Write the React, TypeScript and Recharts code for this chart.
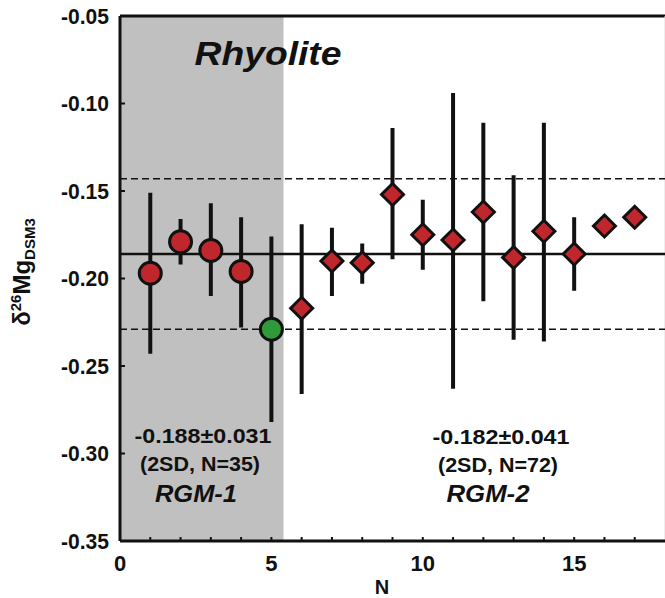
import React from "react";
import {
  ScatterChart,
  Scatter,
  XAxis,
  YAxis,
  ErrorBar,
  ReferenceArea,
  ReferenceLine,
} from "recharts";

// RGM-1 (circles)
const rgm1N = [1, 2, 3, 4];
const rgm1Val = [-0.197, -0.179, -0.184, -0.196];
const rgm1Hi = [-0.151, -0.166, -0.157, -0.165];
const rgm1Lo = [-0.243, -0.192, -0.21, -0.228];

// green outlier
const greenN = [5];
const greenVal = [-0.229];
const greenHi = [-0.176];
const greenLo = [-0.282];

// RGM-2 (diamonds)
const rgm2N = [6, 7, 8, 9, 10, 11, 12, 13, 14, 15, 16, 17];
const rgm2Val = [-0.217, -0.19, -0.191, -0.152, -0.175, -0.178, -0.162, -0.188, -0.173, -0.186, -0.17, -0.165];
const rgm2Hi = [-0.169, -0.171, -0.18, -0.114, -0.155, -0.094, -0.111, -0.141, -0.111, -0.165, -0.17, -0.165];
const rgm2Lo = [-0.266, -0.21, -0.203, -0.189, -0.195, -0.263, -0.213, -0.235, -0.236, -0.207, -0.17, -0.165];

const meanLine = -0.186;
const sdUpper = -0.143;
const sdLower = -0.229;
const shadeEnd = 5.4;

const xTicks = [0, 1, 2, 3, 4, 5, 6, 7, 8, 9, 10, 11, 12, 13, 14, 15, 16, 17];
const yTicks = [-0.35, -0.3, -0.25, -0.2, -0.15, -0.1, -0.05];

const RED = "#c0272d";
const GREEN = "#2f9a3a";
const INK = "#111";
const FONT = "'Liberation Sans', Arial, sans-serif";

const build = (n: number[], v: number[], hi: number[], lo: number[]) =>
  n.map((x, i) => ({ n: x, v: v[i], err: [v[i] - lo[i], hi[i] - v[i]] }));

const rgm1 = build(rgm1N, rgm1Val, rgm1Hi, rgm1Lo);
const green = build(greenN, greenVal, greenHi, greenLo);
const rgm2 = build(rgm2N, rgm2Val, rgm2Hi, rgm2Lo);

const YTick = (props: any) => {
  const { x, y, payload } = props;
  return (
    <g>
      <line x1={x} x2={x + 5} y1={y} y2={y} stroke={INK} strokeWidth={2} />
      <text
        x={x - 11}
        y={y}
        textAnchor="end"
        dominantBaseline="central"
        fontSize={22}
        fontWeight="bold"
        fontFamily={FONT}
        fill={INK}
        textLength={48}
        lengthAdjust="spacingAndGlyphs"
      >
        {payload.value.toFixed(2)}
      </text>
    </g>
  );
};

const XTick = (props: any) => {
  const { x, y, payload } = props;
  return (
    <g>
      <line x1={x} x2={x} y1={y} y2={y - 4} stroke={INK} strokeWidth={2} />
      {payload.value % 5 === 0 && (
        <text
          x={x}
          y={y + 30}
          textAnchor="middle"
          fontSize={22}
          fontWeight="bold"
          fontFamily={FONT}
          fill={INK}
        >
          {payload.value}
        </text>
      )}
    </g>
  );
};

const Circle = (color: string) => (props: any) => (
  <circle cx={props.cx} cy={props.cy} r={11} fill={color} stroke={INK} strokeWidth={3} />
);

const Diamond = (props: any) => {
  const { cx, cy } = props;
  const d = 11;
  return (
    <polygon
      points={`${cx},${cy - d} ${cx + d},${cy} ${cx},${cy + d} ${cx - d},${cy}`}
      fill={RED}
      stroke={INK}
      strokeWidth={3}
      strokeLinejoin="miter"
    />
  );
};

const txt = {
  fontFamily: FONT,
  fontWeight: "bold" as const,
  fill: INK,
  textAnchor: "middle" as const,
  lengthAdjust: "spacingAndGlyphs" as const,
};

export default function App() {
  return (
    <div style={{ position: "relative", width: 665, height: 598 }}>
      <style>{`body{margin:0}`}</style>
      <ScatterChart
        width={665}
        height={598}
        margin={{ top: 16, right: 0, left: 0, bottom: 0 }}
      >
        <ReferenceArea
          x1={0}
          x2={shadeEnd}
          y1={-0.35}
          y2={-0.05}
          fill="#c0c0c0"
          fillOpacity={1}
          stroke="none"
        />
        <XAxis
          type="number"
          dataKey="n"
          domain={[0, 18]}
          ticks={xTicks}
          interval={0}
          height={57}
          tickSize={0}
          tickMargin={0}
          tick={<XTick />}
          axisLine={{ stroke: INK, strokeWidth: 3 }}
          allowDataOverflow
        />
        <YAxis
          type="number"
          dataKey="v"
          domain={[-0.35, -0.05]}
          ticks={yTicks}
          interval={0}
          width={120}
          tickSize={0}
          tickMargin={0}
          tick={<YTick />}
          axisLine={{ stroke: INK, strokeWidth: 3 }}
          allowDataOverflow
        />
        <ReferenceLine y={-0.05} stroke={INK} strokeWidth={3} />
        <ReferenceLine x={18} stroke="#dcdcdc" strokeWidth={1} />
        <ReferenceLine y={sdUpper} stroke={INK} strokeWidth={1.5} strokeDasharray="7 4" />
        <ReferenceLine y={sdLower} stroke={INK} strokeWidth={1.5} strokeDasharray="7 4" />
        <ReferenceLine y={meanLine} stroke={INK} strokeWidth={2.5} />
        <Scatter data={rgm1} shape={Circle(RED)} isAnimationActive={false}>
          <ErrorBar dataKey="err" direction="y" width={0} stroke={INK} strokeWidth={4} />
        </Scatter>
        <Scatter data={green} shape={Circle(GREEN)} isAnimationActive={false}>
          <ErrorBar dataKey="err" direction="y" width={0} stroke={INK} strokeWidth={4} />
        </Scatter>
        <Scatter data={rgm2} shape={Diamond} isAnimationActive={false}>
          <ErrorBar dataKey="err" direction="y" width={0} stroke={INK} strokeWidth={4} />
        </Scatter>
      </ScatterChart>

      {/* annotations on top of the shaded area */}
      <svg
        width={665}
        height={598}
        style={{ position: "absolute", left: 0, top: 0, pointerEvents: "none" }}
      >
        <text {...txt} x={268} y={65} fontSize={33} fontStyle="italic" textLength={147}>
          Rhyolite
        </text>
        <text {...txt} x={203} y={443} fontSize={21} textLength={137}>
          -0.188±0.031
        </text>
        <text {...txt} x={200} y={471} fontSize={21} textLength={120}>
          (2SD, N=35)
        </text>
        <text {...txt} x={196} y={502} fontSize={23} fontStyle="italic" textLength={82}>
          RGM-1
        </text>
        <text {...txt} x={501} y={444} fontSize={21} textLength={137}>
          -0.182±0.041
        </text>
        <text {...txt} x={498} y={472} fontSize={21} textLength={120}>
          (2SD, N=72)
        </text>
        <text {...txt} x={488} y={502} fontSize={23} fontStyle="italic" textLength={83}>
          RGM-2
        </text>
        <text {...txt} x={382} y={594} fontSize={20}>
          N
        </text>
        <text
          {...txt}
          transform="translate(30,272) rotate(-90)"
          x={0}
          y={0}
          fontSize={24}
        >
          δ<tspan fontSize={15} dy={-9}>26</tspan>
          <tspan dy={9}>Mg</tspan>
          <tspan fontSize={15} dy={5}>DSM3</tspan>
        </text>
      </svg>
    </div>
  );
}
